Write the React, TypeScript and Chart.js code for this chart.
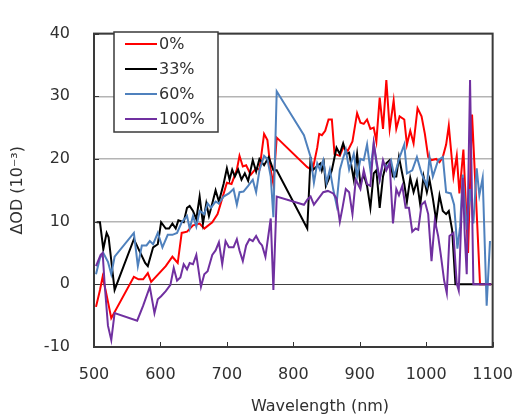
import React, { useEffect, useRef } from "react";
import { Chart, registerables } from "chart.js";

Chart.register(...registerables);

// ---------- data ----------
const seriesLabels = ["0%", "33%", "60%", "100%"];
const seriesColors = ["#ff0000", "#000000", "#4f81bd", "#7030a0"];

const xTicks = [500, 600, 700, 800, 900, 1000, 1100];
const yTicks = [-10, 0, 10, 20, 30, 40];

const wl0 = [503, 509, 513, 518, 526, 560, 567, 574, 581, 586, 608, 618, 626, 632, 640, 649, 659, 666, 678, 686, 693, 700, 707, 715, 719, 724, 729, 736, 744, 749, 756, 761, 766, 770, 775, 821, 829, 836, 839, 843, 848, 853, 858, 862, 870, 875, 882, 889, 896, 901, 906, 911, 916, 921, 925, 930, 935, 940, 945, 951, 955, 960, 967, 971, 976, 981, 987, 993, 998, 1003, 1008, 1015, 1020, 1025, 1030, 1034, 1041, 1046, 1050, 1056, 1063, 1069, 1075, 1081, 1098];
const od0 = [-3.6, -0.9, 1.2, -1.2, -5.4, 1.2, 0.8, 0.8, 1.8, 0.4, 2.9, 4.4, 3.4, 8.2, 8.4, 9.4, 9.7, 8.9, 9.9, 11.2, 13.7, 16.2, 16, 18.3, 20.5, 18.8, 19, 17.5, 18.5, 18.3, 24.0, 23, 18.2, 16, 23.4, 18.7, 18.2, 21.8, 24, 23.8, 24.5, 26.3, 26.3, 20.8, 20.5, 21.8, 21.3, 22.8, 27.3, 25.8, 25.6, 26.3, 24.8, 25, 22.8, 29.8, 24.8, 32.6, 24.8, 29.3, 24.8, 26.8, 26.3, 22.3, 24.5, 22.5, 28.1, 26.8, 24.0, 20.3, 19.8, 20, 19.5, 20.3, 22.3, 25.3, 17.2, 20.5, 14.5, 21.5, 5, 27.1, 13.7, 0, 0];

const wl33 = [504, 509, 514, 519, 522, 526, 531, 560, 577, 581, 589, 596, 601, 608, 613, 618, 623, 627, 635, 640, 644, 649, 654, 659, 664, 669, 673, 678, 683, 688, 695, 700, 704, 708, 712, 717, 722, 727, 732, 739, 744, 749, 756, 763, 770, 775, 821, 826, 829, 833, 841, 843, 846, 849, 853, 858, 865, 870, 875, 880, 884, 891, 896, 901, 906, 911, 916, 921, 925, 930, 935, 940, 945, 950, 955, 959, 967, 971, 976, 981, 986, 991, 996, 1001, 1005, 1010, 1015, 1020, 1025, 1030, 1034, 1039, 1044, 1098];
const od33 = [9.9, 9.9, 5.6, 8.2, 7.5, 3.8, -0.9, 7.2, 3.4, 2.9, 5.9, 6.4, 9.9, 8.9, 8.9, 9.7, 8.9, 10.2, 9.9, 12.2, 12.5, 11.7, 10.4, 14, 9.7, 12.9, 10.9, 12.9, 15, 13.2, 16, 18.5, 16.7, 18.3, 17.2, 18.3, 16.7, 17.7, 16.5, 19.8, 18, 20, 19, 20.3, 18.2, 18.2, 8.9, 20.3, 18.2, 18.6, 19.3, 18.2, 19.3, 15.7, 16.7, 18.2, 21.8, 20.8, 22.5, 20.8, 21, 16.7, 20.8, 16, 17.5, 15.7, 12.2, 17.7, 18.2, 12.2, 17.2, 19.3, 19.8, 17.2, 17.2, 20.3, 16, 13.2, 17, 14.7, 16.5, 12.7, 17.2, 14.7, 16.7, 13.7, 10.2, 14.2, 11.7, 11.2, 11.7, 8.7, 0, 0];

const wl60 = [503, 509, 514, 521, 526, 531, 560, 566, 572, 579, 584, 589, 596, 603, 611, 618, 625, 632, 640, 644, 649, 654, 659, 666, 671, 676, 683, 688, 695, 703, 710, 715, 719, 725, 732, 739, 744, 749, 756, 761, 766, 770, 775, 816, 826, 831, 836, 840, 845, 850, 855, 860, 865, 870, 874, 879, 884, 891, 896, 901, 906, 911, 916, 921, 925, 930, 935, 942, 947, 952, 959, 967, 971, 979, 986, 993, 1001, 1005, 1010, 1018, 1025, 1030, 1037, 1042, 1047, 1051, 1055, 1061, 1066, 1071, 1076, 1080, 1085, 1091, 1096];
const od60 = [1.6, 4.2, 5.0, 3.6, 1.6, 4.4, 8.2, 2.9, 6.2, 6.2, 6.9, 6.4, 8.2, 5.9, 7.9, 7.9, 8.2, 9.9, 10.9, 8.9, 10.9, 9.2, 11.7, 11.2, 12.9, 12.2, 13.2, 12.9, 14, 14.5, 15.2, 12.7, 14.7, 14.8, 15.7, 16.7, 14.7, 18.2, 20.5, 20, 17.2, 10.7, 30.8, 23.8, 20.3, 16.2, 19.3, 18.3, 19.8, 16.2, 18.3, 15.2, 12.7, 18.3, 19.8, 21.5, 18.3, 20.8, 17.2, 20, 19.8, 22.3, 18.2, 22.5, 19.3, 16.7, 19.3, 18.8, 19.8, 17.2, 20, 22.3, 17.7, 18.2, 20.3, 17.7, 15.7, 20.3, 17.2, 19.8, 20.3, 14.7, 14.5, 12.7, 5.7, 9.2, 17.5, 8.7, 15.2, 9.7, 18.5, 14.2, 17, -3.4, 6.9];

const wl100 = [503, 510, 513, 516, 521, 526, 531, 565, 574, 584, 591, 596, 601, 608, 615, 620, 625, 630, 635, 640, 644, 649, 654, 661, 666, 671, 678, 683, 688, 693, 698, 703, 710, 715, 719, 724, 729, 734, 739, 744, 749, 753, 758, 766, 770, 775, 816, 821, 826, 831, 838, 845, 852, 860, 865, 870, 874, 879, 884, 889, 894, 901, 906, 911, 916, 921, 925, 930, 935, 940, 945, 950, 955, 959, 964, 969, 974, 979, 984, 988, 993, 998, 1003, 1008, 1013, 1018, 1022, 1027, 1031, 1035, 1041, 1046, 1049, 1055, 1058, 1061, 1066, 1071, 1098];
const od100 = [2.9, 4.7, 5.0, 0.1, -6.6, -8.9, -4.6, -5.8, -3.4, -0.4, -4.6, -2.4, -1.9, -1.1, -0.1, 2.6, 0.6, 1.1, 3.2, 2.4, 3.4, 3.2, 4.7, -0.4, 1.6, 2.1, 4.7, 5.4, 6.7, 3.2, 6.9, 5.9, 5.9, 7.2, 5.4, 3.7, 6.2, 7.2, 6.9, 7.7, 6.7, 6.2, 4.4, 10.5, -0.9, 14, 12.7, 13.5, 14, 12.7, 13.7, 14.7, 14.9, 14.5, 13.7, 10, 12.2, 15.2, 14.7, 11.2, 16.7, 15.2, 18.2, 16, 15.7, 22.5, 19.8, 16.7, 19.8, 18.2, 19.3, 9.7, 15.2, 14.2, 15.7, 12.2, 12.2, 8.4, 8.9, 8.7, 12.7, 13.2, 11.2, 3.7, 10.2, 7.7, 4.7, 0.6, -1.4, 7.7, 8.2, 0.1, -1, 17, 8, 1.6, 32.6, 0, 0];

const wavelengths = [wl0, wl33, wl60, wl100];
const values = [od0, od33, od60, od100];

const xTitle = "Wavelength (nm)";
const yTitle = "ΔOD (10⁻³)";

const FONT = "'DejaVu Sans', sans-serif";
const TEXT = "#303030";

const decorPlugin = {
  id: "decor",
  afterDraw(chart: any) {
    const { ctx, chartArea: a, scales } = chart;
    const xs = scales.x;
    const ys = scales.y;
    ctx.save();
    // inner tick marks
    ctx.strokeStyle = "#333";
    ctx.lineWidth = 1;
    ctx.beginPath();
    xTicks.forEach((v) => {
      const px = Math.round(xs.getPixelForValue(v)) + 0.5;
      ctx.moveTo(px, a.bottom);
      ctx.lineTo(px, a.bottom - 5);
    });
    yTicks.forEach((v) => {
      const py = Math.round(ys.getPixelForValue(v)) + 0.5;
      ctx.moveTo(a.left, py);
      ctx.lineTo(a.left + 5, py);
    });
    ctx.stroke();
    // frame
    ctx.strokeStyle = "#3a3a3a";
    ctx.lineWidth = 2;
    ctx.strokeRect(a.left, a.top, a.right - a.left, a.bottom - a.top);

    // legend
    const lx = 114, ly = 32, lw = 104, lh = 100;
    ctx.fillStyle = "#ffffff";
    ctx.fillRect(lx, ly, lw, lh);
    ctx.strokeStyle = "#3a3a3a";
    ctx.lineWidth = 1.5;
    ctx.strokeRect(lx, ly, lw, lh);
    ctx.font = "16px " + FONT;
    ctx.textBaseline = "middle";
    ctx.textAlign = "left";
    seriesLabels.forEach((lab, i) => {
      const ry = 44 + i * 25;
      ctx.strokeStyle = seriesColors[i];
      ctx.lineWidth = 2;
      ctx.beginPath();
      ctx.moveTo(125, ry);
      ctx.lineTo(157, ry);
      ctx.stroke();
      ctx.fillStyle = TEXT;
      ctx.fillText(lab, 159, ry + 1);
    });

    // axis titles
    ctx.fillStyle = TEXT;
    ctx.font = "16px " + FONT;
    ctx.textAlign = "center";
    ctx.textBaseline = "middle";
    ctx.fillText(xTitle, 320, 407);
    ctx.save();
    ctx.translate(18, (a.top + a.bottom) / 2);
    ctx.rotate(-Math.PI / 2);
    ctx.fillText(yTitle, 0, 0);
    ctx.restore();
    ctx.restore();
  },
};

export default function App() {
  const ref = useRef<HTMLCanvasElement | null>(null);
  useEffect(() => {
    document.body.style.margin = "0";
    const canvas = ref.current;
    if (!canvas) return;
    const datasets = seriesLabels.map((lab, i) => ({
      label: lab,
      data: wavelengths[i].map((x, j) => ({ x, y: values[i][j] })),
      borderColor: seriesColors[i],
      backgroundColor: seriesColors[i],
      borderWidth: 2,
      pointRadius: 0,
      showLine: true,
      tension: 0,
      order: seriesLabels.length - i,
    }));
    const chart = new Chart(canvas, {
      type: "scatter",
      data: { datasets },
      options: {
        responsive: false,
        animation: false,
        layout: { padding: { top: 16, right: 24, left: 0, bottom: 0 } },
        plugins: { legend: { display: false }, tooltip: { enabled: false } },
        scales: {
          x: {
            type: "linear",
            min: 500,
            max: 1100,
            afterBuildTicks: (s: any) => {
              s.ticks = xTicks.map((v) => ({ value: v }));
            },
            afterFit: (s: any) => {
              s.height = 70;
            },
            grid: { display: false, drawTicks: false },
            border: { display: false },
            ticks: {
              padding: 18,
              color: TEXT,
              font: { size: 16, family: FONT },
              maxRotation: 0,
              callback: (v: any) => String(v),
            },
          },
          y: {
            type: "linear",
            min: -10,
            max: 40,
            afterBuildTicks: (s: any) => {
              s.ticks = yTicks.map((v) => ({ value: v }));
            },
            afterFit: (s: any) => {
              s.width = 94;
            },
            grid: {
              drawTicks: false,
              color: (c: any) => (c.tick && c.tick.value === 0 ? "#404040" : "#b4b4b4"),
              lineWidth: (c: any) => (c.tick && c.tick.value === 0 ? 1 : 1.5),
            },
            border: { display: false },
            ticks: {
              padding: 24,
              color: TEXT,
              font: { size: 16, family: FONT },
              callback: (v: any) => String(v),
            },
          },
        },
      },
      plugins: [decorPlugin],
    });
    return () => chart.destroy();
  }, []);
  return <canvas ref={ref} width={531} height={417} style={{ display: "block" }} />;
}
